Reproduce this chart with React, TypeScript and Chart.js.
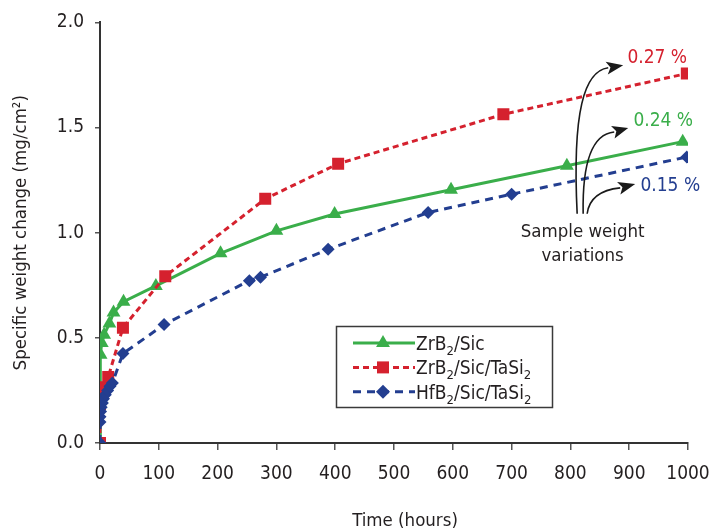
import { useEffect, useRef } from "react";
import { Chart, registerables } from "chart.js";

Chart.register(...registerables);

const FONT = "'Liberation Sans Narrow', 'Arial Narrow', 'DejaVu Sans Condensed', sans-serif";
const TEXT = "#231f20";
const GREEN = "#3aae4a";
const RED = "#d5212e";
const BLUE = "#233e90";

// Axis ranges / ticks
const X_MIN = 0;
const X_MAX = 1000;
const X_STEP = 100;
const Y_MIN = 0;
const Y_MAX = 2;
const Y_STEP = 0.5;

// ZrB2/Sic
const zrbSicTime = [0, 0, 1, 3, 7, 16, 23, 40, 95, 205, 300, 399, 597, 794, 991];
const zrbSicGain = [0, 0.25, 0.42, 0.475, 0.515, 0.568, 0.62, 0.672, 0.747, 0.902, 1.009, 1.089, 1.204, 1.318, 1.433];

// ZrB2/Sic/TaSi2
const zrbTaTime = [0, 0, 1, 7, 14, 39, 111, 281, 405, 686, 998];
const zrbTaGain = [0, 0.185, 0.225, 0.265, 0.314, 0.548, 0.793, 1.161, 1.328, 1.563, 1.757];

// HfB2/Sic/TaSi2
const hfbTaTime = [0, 0, 0, 1, 2, 4, 6, 9, 13, 17, 21, 39, 109, 254, 273, 388, 558, 700, 998];
const hfbTaGain = [0, 0.1, 0.125, 0.15, 0.17, 0.19, 0.21, 0.23, 0.25, 0.27, 0.285, 0.425, 0.563, 0.772, 0.788, 0.921, 1.096, 1.183, 1.36];

// Annotations (data coordinates)
const variationLabels = ["0.27 %", "0.24 %", "0.15 %"];
const variationColors = [RED, GREEN, BLUE];
const variationLabelX = [947.7, 957.9, 969.9];
const variationLabelY = [1.807, 1.507, 1.199];
// arrows: start, ctrl1, ctrl2, end(base of head), tip
const arrowPathX = [
  [811.5, 803.0, 823.4, 864.3, 889.8],
  [821.7, 820.0, 837.0, 874.5, 898.3],
  [828.5, 831.9, 854.0, 884.7, 910.2],
];
const arrowPathY = [
  [1.09, 1.578, 1.768, 1.784, 1.796],
  [1.09, 1.341, 1.469, 1.479, 1.498],
  [1.09, 1.166, 1.204, 1.213, 1.232],
];
const noteLines = ["Sample weight", "variations"];
const noteX = 820.8;
const noteY = [0.981, 0.867];

const xTitle = "Time (hours)";
const yTitle = "Specific weight change (mg/cm²)";

type Seg = { t: string; sub?: boolean };
const legendItems: { segs: Seg[]; color: string; dash: number[]; marker: string }[] = [
  { segs: [{ t: "ZrB" }, { t: "2", sub: true }, { t: "/Sic" }], color: GREEN, dash: [], marker: "triangle" },
  {
    segs: [{ t: "ZrB" }, { t: "2", sub: true }, { t: "/Sic/TaSi" }, { t: "2", sub: true }],
    color: RED,
    dash: [6, 4],
    marker: "rect",
  },
  {
    segs: [{ t: "HfB" }, { t: "2", sub: true }, { t: "/Sic/TaSi" }, { t: "2", sub: true }],
    color: BLUE,
    dash: [8, 6],
    marker: "rectRot",
  },
];

function pts(xs: number[], ys: number[]) {
  return xs.map((x, i) => ({ x, y: ys[i] }));
}

function drawMarker(ctx: CanvasRenderingContext2D, kind: string, x: number, y: number, color: string) {
  ctx.save();
  ctx.setLineDash([]);
  ctx.fillStyle = color;
  ctx.beginPath();
  if (kind === "triangle") {
    const r = 8;
    ctx.moveTo(x, y - r);
    ctx.lineTo(x + r * 0.866, y + r * 0.5);
    ctx.lineTo(x - r * 0.866, y + r * 0.5);
  } else if (kind === "rect") {
    const s = 6;
    ctx.rect(x - s, y - s, 2 * s, 2 * s);
  } else {
    const r = 7;
    ctx.moveTo(x, y - r);
    ctx.lineTo(x + r, y);
    ctx.lineTo(x, y + r);
    ctx.lineTo(x - r, y);
  }
  ctx.closePath();
  ctx.fill();
  ctx.restore();
}

const overlayPlugin = {
  id: "overlay",
  afterDraw(chart: any) {
    const ctx: CanvasRenderingContext2D = chart.ctx;
    const xs = chart.scales.x;
    const ys = chart.scales.y;
    const px = (v: number) => xs.getPixelForValue(v);
    const py = (v: number) => ys.getPixelForValue(v);
    const area = chart.chartArea;
    ctx.save();

    // X axis title
    ctx.fillStyle = TEXT;
    ctx.font = `18.5px ${FONT}`;
    ctx.textAlign = "center";
    ctx.textBaseline = "middle";
    ctx.fillText(xTitle, (area.left + area.right) / 2 + 11, 521);

    // Legend box
    const lx = 336.5;
    const ly = 326.5;
    ctx.strokeStyle = "#3a3a3a";
    ctx.lineWidth = 1.5;
    ctx.setLineDash([]);
    ctx.strokeRect(lx, ly, 216, 81);
    legendItems.forEach((it, i) => {
      const y = 343 + i * 24.4;
      ctx.strokeStyle = it.color;
      ctx.lineWidth = 3;
      ctx.setLineDash(it.dash);
      ctx.beginPath();
      ctx.moveTo(353, y);
      ctx.lineTo(415, y);
      ctx.stroke();
      drawMarker(ctx, it.marker, 383, y, it.color);
      let tx = 416;
      ctx.fillStyle = TEXT;
      ctx.textAlign = "left";
      ctx.textBaseline = "alphabetic";
      it.segs.forEach((s) => {
        ctx.font = s.sub ? `13px ${FONT}` : `19px ${FONT}`;
        ctx.fillText(s.t, tx, s.sub ? y + 12 : y + 7);
        tx += ctx.measureText(s.t).width;
      });
    });

    // Variation labels
    ctx.font = `19px ${FONT}`;
    ctx.textAlign = "center";
    ctx.textBaseline = "alphabetic";
    variationLabels.forEach((t, i) => {
      ctx.fillStyle = variationColors[i];
      ctx.fillText(t, px(variationLabelX[i]), py(variationLabelY[i]));
    });

    // Note
    ctx.fillStyle = TEXT;
    ctx.font = `18.5px ${FONT}`;
    noteLines.forEach((t, i) => {
      ctx.fillText(t, px(noteX), py(noteY[i]));
    });

    // Arrows
    ctx.strokeStyle = "#1a1a1a";
    ctx.fillStyle = "#1a1a1a";
    ctx.lineWidth = 1.6;
    ctx.setLineDash([]);
    arrowPathX.forEach((ax, i) => {
      const ay = arrowPathY[i];
      const p = ax.map((v, k) => [px(v), py(ay[k])]);
      ctx.beginPath();
      ctx.moveTo(p[0][0], p[0][1]);
      ctx.bezierCurveTo(p[1][0], p[1][1], p[2][0], p[2][1], p[3][0], p[3][1]);
      ctx.stroke();
      const dx = p[4][0] - p[3][0];
      const dy = p[4][1] - p[3][1];
      const len = Math.hypot(dx, dy) || 1;
      const nx = -dy / len;
      const ny = dx / len;
      const hw = 6.5;
      ctx.beginPath();
      ctx.moveTo(p[4][0], p[4][1]);
      ctx.lineTo(p[3][0] - dx * 0.1 + nx * hw, p[3][1] - dy * 0.1 + ny * hw);
      ctx.lineTo(p[3][0] + dx * 0.15, p[3][1] + dy * 0.15);
      ctx.lineTo(p[3][0] - dx * 0.1 - nx * hw, p[3][1] - dy * 0.1 - ny * hw);
      ctx.closePath();
      ctx.fill();
    });

    ctx.restore();
  },
};

export default function App() {
  const ref = useRef<HTMLCanvasElement>(null);
  useEffect(() => {
    const canvas = ref.current;
    if (!canvas) return;
    const chart = new Chart(canvas, {
      type: "line",
      data: {
        datasets: [
          {
            label: "ZrB2/Sic",
            data: pts(zrbSicTime, zrbSicGain),
            borderColor: GREEN,
            backgroundColor: GREEN,
            borderWidth: 3,
            pointStyle: "triangle",
            pointRadius: 8,
            pointBorderWidth: 0,
            tension: 0,
            order: 3,
          },
          {
            label: "ZrB2/Sic/TaSi2",
            data: pts(zrbTaTime, zrbTaGain),
            borderColor: RED,
            backgroundColor: RED,
            borderWidth: 3,
            borderDash: [6, 4],
            pointStyle: "rect",
            pointRadius: 8.5,
            pointBorderWidth: 0,
            tension: 0,
            order: 2,
          },
          {
            label: "HfB2/Sic/TaSi2",
            data: pts(hfbTaTime, hfbTaGain),
            borderColor: BLUE,
            backgroundColor: BLUE,
            borderWidth: 3,
            borderDash: [8, 6],
            pointStyle: "rectRot",
            pointRadius: 6.5,
            pointBorderWidth: 0,
            tension: 0,
            order: 1,
          },
        ],
      },
      options: {
        animation: false,
        responsive: true,
        maintainAspectRatio: false,
        layout: { padding: { left: 0, top: 19, right: 21, bottom: 0 } },
        plugins: {
          legend: { display: false },
          tooltip: { enabled: false },
        },
        scales: {
          x: {
            type: "linear",
            min: X_MIN,
            max: X_MAX,
            afterFit: (s: any) => {
              s.height = 89;
              s.paddingLeft = 0;
              s.paddingRight = 0;
            },
            ticks: {
              stepSize: X_STEP,
              autoSkip: false,
              color: TEXT,
              font: { family: FONT, size: 19 },
              padding: 13,
              maxRotation: 0,
              callback: (v: any) => String(v),
            },
            grid: { drawOnChartArea: false, drawTicks: true, tickLength: 7, color: "#555", lineWidth: 1.5 },
            border: { display: true, color: "#333", width: 2 },
            title: { display: false },
          },
          y: {
            type: "linear",
            min: Y_MIN,
            max: Y_MAX,
            afterFit: (s: any) => {
              s.width = 100;
            },
            ticks: {
              stepSize: Y_STEP,
              color: TEXT,
              font: { family: FONT, size: 19 },
              padding: 11,
              callback: (v: any) => Number(v).toFixed(1),
            },
            grid: { drawOnChartArea: false, drawTicks: true, tickLength: 5, color: "#555", lineWidth: 1.5 },
            border: { display: true, color: "#333", width: 2 },
            title: {
              display: true,
              text: yTitle,
              color: TEXT,
              font: { family: FONT, size: 18.5 },
              padding: { top: 10, bottom: 0 },
            },
          },
        },
      },
      plugins: [overlayPlugin],
    });
    return () => chart.destroy();
  }, []);
  return (
    <div style={{ position: "fixed", left: 0, top: 0, width: 709, height: 532, background: "#fff" }}>
      <canvas ref={ref} />
    </div>
  );
}
